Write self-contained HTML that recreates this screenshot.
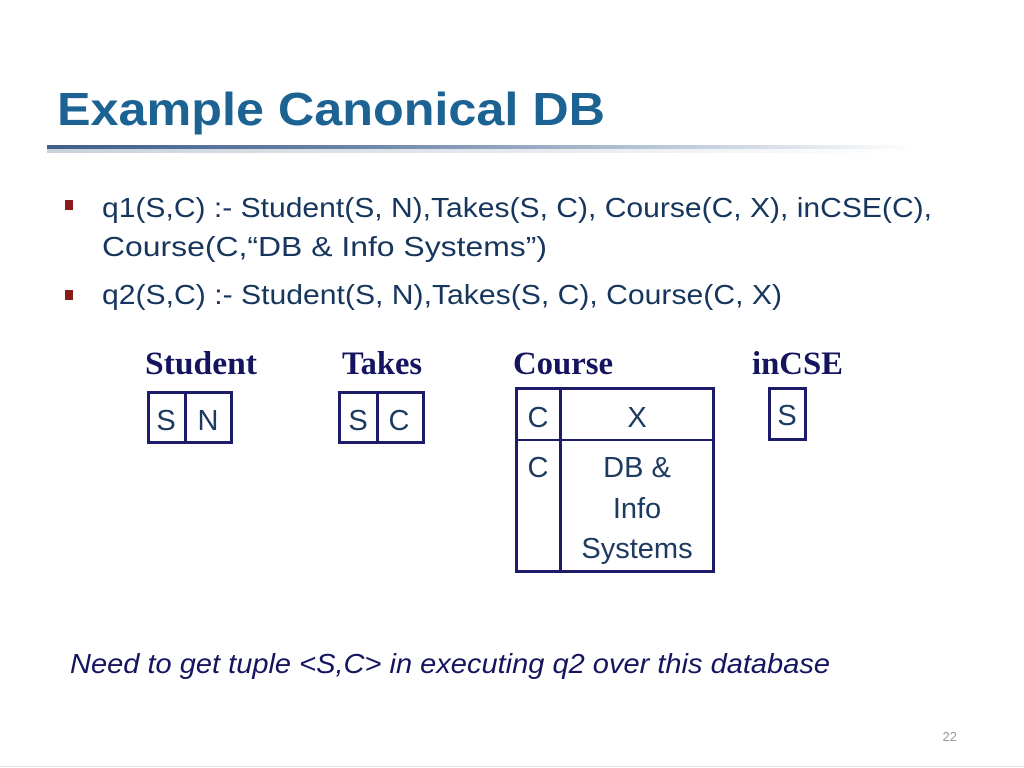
<!DOCTYPE html>
<html>
<head>
<meta charset="utf-8">
<style>
  html,body{margin:0;padding:0;background:#fff;}
  body{width:1024px;height:768px;overflow:hidden;}
  svg{display:block;}
</style>
</head>
<body>
<svg width="1024" height="768" viewBox="0 0 1024 768" xmlns="http://www.w3.org/2000/svg">
  <defs>
    <linearGradient id="rule" x1="0" y1="0" x2="1" y2="0">
      <stop offset="0" stop-color="#3f5f88"/>
      <stop offset="0.35" stop-color="#6a83a6"/>
      <stop offset="0.7" stop-color="#b9c6d6"/>
      <stop offset="1" stop-color="#ffffff"/>
    </linearGradient>
    <linearGradient id="shadow" x1="0" y1="0" x2="1" y2="0">
      <stop offset="0" stop-color="#c9d2dd"/>
      <stop offset="0.6" stop-color="#e8ecf1"/>
      <stop offset="1" stop-color="#ffffff"/>
    </linearGradient>
  </defs>
  <rect x="0" y="0" width="1024" height="768" fill="#fff"/>

  <!-- Title -->
  <text x="57" y="125" font-family="Liberation Sans, sans-serif" font-weight="bold" font-size="46" fill="#1c6394" textLength="548" lengthAdjust="spacingAndGlyphs">Example Canonical DB</text>

  <!-- title rule -->
  <rect x="47" y="145" width="870" height="4" fill="url(#rule)"/>
  <rect x="47" y="149" width="870" height="4" fill="url(#shadow)"/>

  <!-- bullets -->
  <rect x="65" y="200" width="8" height="10" fill="#8b1a1a"/>
  <rect x="65" y="290" width="8" height="10" fill="#8b1a1a"/>

  <g font-family="Liberation Sans, sans-serif" font-size="28" fill="#17365d">
    <text x="102" y="217" textLength="830" lengthAdjust="spacingAndGlyphs">q1(S,C) :- Student(S, N),Takes(S, C), Course(C, X), inCSE(C),</text>
    <text x="102" y="256" textLength="445" lengthAdjust="spacingAndGlyphs">Course(C,“DB &amp; Info Systems”)</text>
    <text x="102" y="304" textLength="680" lengthAdjust="spacingAndGlyphs">q2(S,C) :- Student(S, N),Takes(S, C), Course(C, X)</text>
  </g>

  <!-- table labels -->
  <g font-family="Liberation Serif, serif" font-weight="bold" font-size="33" fill="#14145f">
    <text x="145" y="374" textLength="112" lengthAdjust="spacingAndGlyphs">Student</text>
    <text x="342" y="374" textLength="80" lengthAdjust="spacingAndGlyphs">Takes</text>
    <text x="513" y="374" textLength="100" lengthAdjust="spacingAndGlyphs">Course</text>
    <text x="752" y="374" textLength="91" lengthAdjust="spacingAndGlyphs">inCSE</text>
  </g>

  <!-- boxes -->
  <g fill="none" stroke="#1c1c6b" stroke-width="3">
    <rect x="148.5" y="392.5" width="83" height="50"/>
    <line x1="185.5" y1="392" x2="185.5" y2="443"/>
    <rect x="339.5" y="392.5" width="84" height="50"/>
    <line x1="377.5" y1="392" x2="377.5" y2="443"/>
    <rect x="516.5" y="388.5" width="197" height="183"/>
    <line x1="560.5" y1="388" x2="560.5" y2="572"/>
    <rect x="769.5" y="388.5" width="36" height="51"/>
  </g>
  <line x1="516" y1="440" x2="714" y2="440" stroke="#1c1c6b" stroke-width="2"/>

  <!-- cell text -->
  <g font-family="Liberation Sans, sans-serif" font-size="29" fill="#1d3a60" text-anchor="middle">
    <text x="166" y="430">S</text>
    <text x="208" y="430">N</text>
    <text x="358" y="430">S</text>
    <text x="399" y="430">C</text>
    <text x="538" y="427">C</text>
    <text x="637" y="427">X</text>
    <text x="538" y="477">C</text>
    <text x="637" y="477">DB &amp;</text>
    <text x="637" y="518">Info</text>
    <text x="637" y="558">Systems</text>
    <text x="787" y="425">S</text>
  </g>

  <!-- bottom italic text -->
  <text x="70" y="673" font-family="Liberation Sans, sans-serif" font-style="italic" font-size="28" fill="#14145f" textLength="760" lengthAdjust="spacingAndGlyphs">Need to get tuple &lt;S,C&gt; in executing q2 over this database</text>

  <!-- page number -->
  <text x="957" y="741" font-family="Liberation Sans, sans-serif" font-size="13" fill="#9a9a9a" text-anchor="end">22</text>
  <line x1="0" y1="766.5" x2="1024" y2="766.5" stroke="#e6e6e6" stroke-width="1"/>
</svg>
</body>
</html>
